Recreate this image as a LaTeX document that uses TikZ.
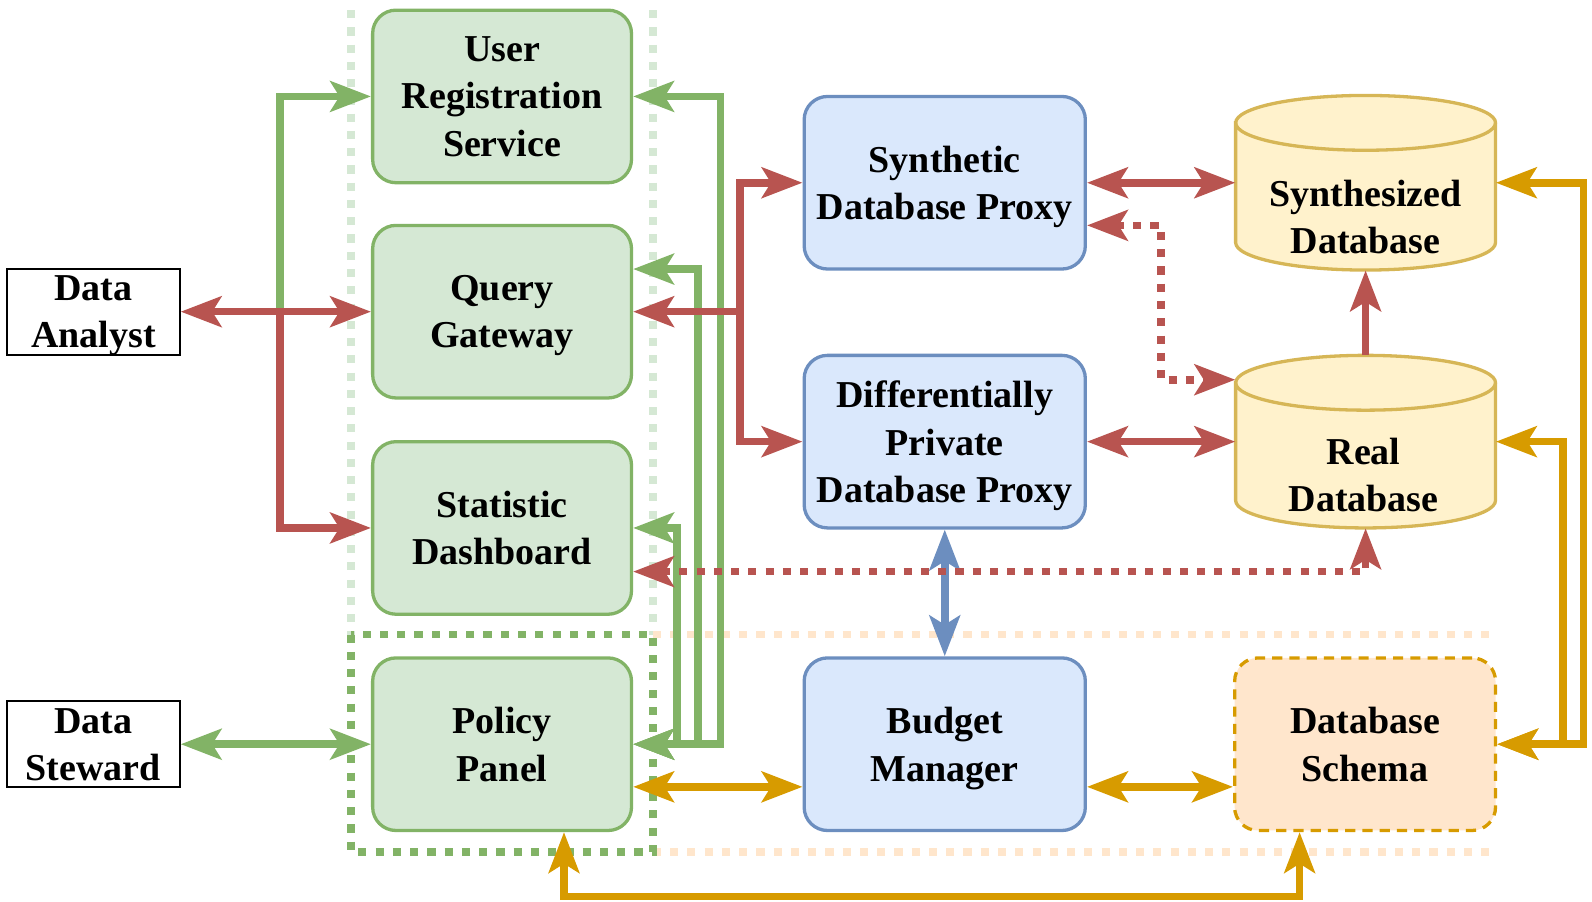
\documentclass[tikz,border=0pt]{standalone}
\usepackage{fontspec}
\setmainfont{Liberation Serif}
\usetikzlibrary{arrows.meta}

\definecolor{grnfill}{HTML}{D5E8D4}
\definecolor{grnline}{HTML}{82B366}
\definecolor{blufill}{HTML}{DAE8FC}
\definecolor{bluline}{HTML}{6C8EBF}
\definecolor{yelfill}{HTML}{FFF2CC}
\definecolor{yelline}{HTML}{D6B656}
\definecolor{orgfill}{HTML}{FFE6CC}
\definecolor{orgline}{HTML}{D79B00}
\definecolor{redline}{HTML}{B85450}

\begin{document}
\begin{tikzpicture}[x=0.02cm, y=0.02cm,
  >={Stealth[length=0.8cm, width=0.6cm, inset=0.18cm]},
  txt/.style={align=center, text depth=0pt, font=\bfseries\fontsize{21.3pt}{26.5pt}\selectfont},
  box/.style={txt, draw, rounded corners=0.46cm, line width=0.065cm,
    minimum width=5.1cm, minimum height=3.4cm},
  greenbox/.style={box, draw=grnline, fill=grnfill},
  bluebox/.style={box, draw=bluline, fill=blufill, minimum width=5.54cm},
  actor/.style={txt, draw, line width=0.04cm, minimum width=3.4cm, minimum height=1.7cm},
  cyl/.style={draw=yelline, fill=yelfill, line width=0.065cm},
  dots/.style={dash pattern=on 0.16cm off 0.18cm},
  link/.style={line width=0.15cm},
  redlink/.style={link, draw=redline},
  grnlink/.style={link, draw=grnline},
  blulink/.style={link, draw=bluline},
  orglink/.style={link, draw=orgline}]
\useasboundingbox (0,0) rectangle (1568,888);

\draw[link, dots, draw=grnfill] (346,878) -- (346,263);
\draw[link, dots, draw=grnfill] (643,878) -- (643,263);
\draw[link, dots, draw=orgfill] (643,263) -- (1470,263);
\draw[link, dots, draw=orgfill] (643,49) -- (1470,49);
\draw[link, dots, draw=grnline] (346,263) rectangle (643,49);

\node[actor] (da) at (92,581) {Data\\Analyst};
\node[actor] (ds) at (92,155) {Data\\Steward};

\node[greenbox] (urs) at (494.5,793) {User\\Registration\\Service};
\node[greenbox] (qg) at (494.5,581) {Query\\Gateway};
\node[greenbox] (sd) at (494.5,368) {Statistic\\Dashboard};
\node[greenbox] (pp) at (494.5,155) {Policy\\Panel};

\node[bluebox] (sdp) at (930.5,708) {Synthetic\\Database Proxy};
\node[bluebox] (dpp) at (930.5,453) {Differentially\\Private\\Database Proxy};
\node[bluebox] (bm) at (930.5,155) {Budget\\Manager};

\node[box, draw=orgline, fill=orgfill, dash pattern=on 0.2cm off 0.14cm,
  minimum width=5.14cm] (schema) at (1344.5,155) {Database\\Schema};

\node[minimum width=5.12cm, minimum height=3.44cm] (syndb) at (1345,708) {};
\draw[cyl] (1217,767) -- (1217,649) arc[start angle=180, end angle=360, x radius=2.56cm, y radius=0.54cm]
  -- (1473,767) arc[start angle=0, end angle=180, x radius=2.56cm, y radius=0.54cm] -- cycle;
\draw[cyl, fill=none] (1217,767) arc[start angle=180, end angle=360, x radius=2.56cm, y radius=0.54cm];
\node[txt] (syntxt) at (1345,674.5) {Synthesized\\Database};

\node[minimum width=5.12cm, minimum height=3.4cm] (realdb) at (1345,453) {};
\draw[cyl] (1217,511) -- (1217,395) arc[start angle=180, end angle=360, x radius=2.56cm, y radius=0.54cm]
  -- (1473,511) arc[start angle=0, end angle=180, x radius=2.56cm, y radius=0.54cm] -- cycle;
\draw[cyl, fill=none] (1217,511) arc[start angle=180, end angle=360, x radius=2.56cm, y radius=0.54cm];
\node[txt] (realtxt) at (1343,420) {Real\\Database};

\coordinate (jA) at (276,581);
\coordinate (jQ) at (729,581);

\draw[orglink, <->] ([yshift=-0.84cm]pp.east) -- ([yshift=-0.84cm]bm.west);
\draw[orglink, <->] ([yshift=-0.84cm]bm.east) -- ([yshift=-0.84cm]schema.west);
\draw[orglink, <->] ([xshift=1.22cm]pp.south) -- ++(0,-63.5) -| ([xshift=-1.29cm]schema.south);
\draw[orglink, <->] (schema.east) -- ++(65,0) |- (realdb.east);
\draw[orglink, <->] (schema.east) -- ++(85,0) |- (syndb.east);

\draw[blulink, <->] (dpp.south) -- (bm.north);

\draw[grnlink, ->] (jA) |- (urs.west);
\draw[grnlink, <->] (ds.east) -- (pp.west);
\draw[grnlink, <->] (pp.east) -- ++(86,0) |- (urs.east);
\draw[grnlink, <->] (pp.east) -- ++(64,0) |- ([yshift=0.84cm]qg.east);
\draw[grnlink, <->] (pp.east) -- ++(43,0) |- (sd.east);

\draw[redlink, <->] (da.east) -- (qg.west);
\draw[redlink, ->] (jA) |- (sd.west);
\draw[redlink, <->] (qg.east) -- (jQ) |- (sdp.west);
\draw[redlink, ->] (jQ) |- (dpp.west);
\draw[redlink, <->] (sdp.east) -- (syndb.west);
\draw[redlink, <->] (dpp.east) -- (realdb.west);
\draw[redlink, ->] (realdb.north) -- (syndb.south);
\draw[redlink, dots, <->] ([yshift=-0.84cm]sdp.east) -- ++(73,0) |- ([yshift=1.22cm]realdb.west);
\draw[redlink, dots, <->] ([yshift=-0.86cm]sd.east) -| (realdb.south);
\end{tikzpicture}
\end{document}
